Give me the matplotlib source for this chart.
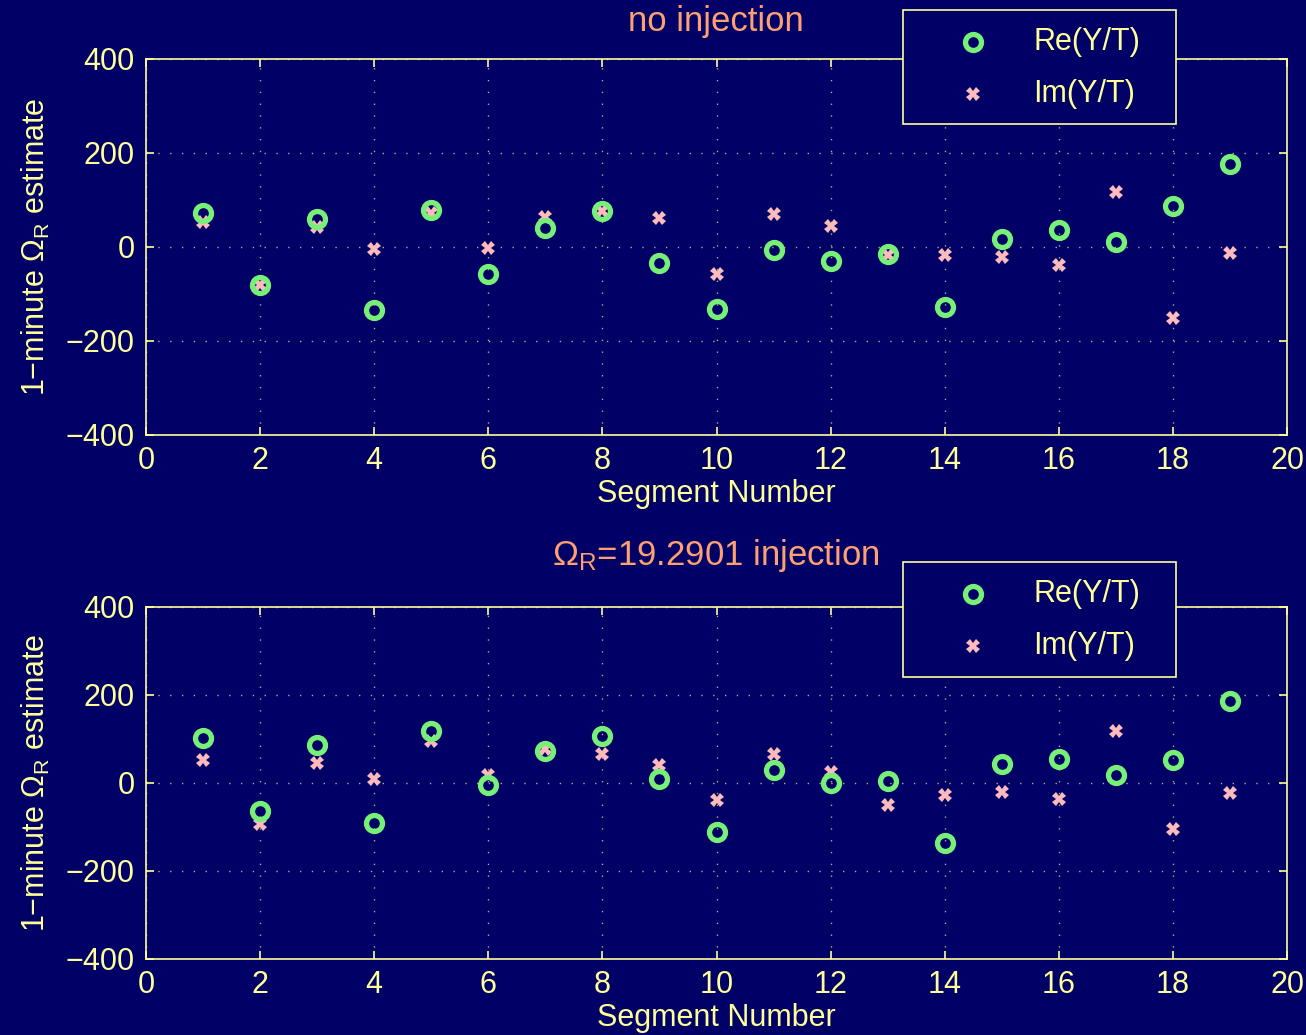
import matplotlib
matplotlib.use("Agg")
import matplotlib.pyplot as plt
from matplotlib.lines import Line2D
from matplotlib.patches import Rectangle

plt.rcParams['font.family'] = ['Liberation Sans', 'DejaVu Sans']
plt.rcParams['mathtext.fontset'] = 'custom'
plt.rcParams['mathtext.rm'] = 'Liberation Sans'
plt.rcParams['mathtext.it'] = 'Liberation Sans'
plt.rcParams['lines.scale_dashes'] = False
plt.rcParams['axes.unicode_minus'] = True

segments = list(range(1, 20))

re_noinj = [72, -81, 60, -134, 79, -57, 40, 77, -34, -132, -6, -30, -15, -128, 17, 36, 11, 87, 177]
im_noinj = [53, -81, 43, -4, 72, -2, 64, 77, 62, -57, 70, 45, -17, -17, -21, -38, 117, -151, -13]

re_inj = [102, -64, 86, -91, 118, -5, 73, 107, 9, -111, 30, 0, 5, -136, 43, 55, 18, 52, 186]
im_inj = [52, -93, 45, 9, 95, 18, 77, 66, 41, -39, 66, 25, -50, -27, -20, -36, 118, -105, -23]

titles = ["no injection", r"$\Omega_\mathrm{R}$=19.2901 injection"]
legend_labels = ['Re(Y/T)', 'Im(Y/T)']
xlabel = "Segment Number"
ylabel = r"1−minute $\Omega_\mathrm{R}$ estimate"
xticks = list(range(0, 21, 2))
yticks = [-400, -200, 0, 200, 400]

BG = '#000066'
FG = '#FFFF99'
TITLE = '#FFA070'
GREEN = '#77F077'
PINK = '#FFBBBB'
GRID = '#B0B080'

W, H = 1306, 1035
fig = plt.figure(figsize=(W / 100, H / 100), dpi=100, facecolor=BG)

def fx(px):
    return px / W

def fy(py):
    return 1 - py / H

boxes = [
    (fx(146), fy(435), 1141 / W, 376 / H),
    (fx(146), fy(959), 1141 / W, 352 / H),
]
legend_boxes = [(903, 10, 1176, 124), (903, 562, 1176, 677)]
title_y = [22, 555]

data = [(re_noinj, im_noinj), (re_inj, im_inj)]

re_style = dict(linestyle='none', marker='o', markersize=11.5,
                markerfacecolor='none', markeredgewidth=3.8, markeredgecolor=GREEN)
im_style = dict(linestyle='none', marker='X', markersize=10,
                markeredgewidth=0, color=PINK)

for i, (box, (re, im)) in enumerate(zip(boxes, data)):
    ax = fig.add_axes(box)
    ax.set_facecolor(BG)
    ax.plot(segments, im, zorder=3, **im_style)
    ax.plot(segments, re, zorder=4, **re_style)
    ax.set_xlim(0, 20)
    ax.set_ylim(-400, 400)
    ax.set_xticks(xticks)
    ax.set_yticks(yticks)
    ax.grid(True, color=GRID, linestyle=(0, (1, 7.5)), linewidth=1.0)
    for s in ax.spines.values():
        s.set_color(FG)
        s.set_linewidth(1.2)
    ax.tick_params(direction='in', top=True, right=True, colors=FG,
                   labelsize=22, length=6, width=1.2, pad=8)
    ax.set_xlabel(xlabel, color=FG, fontsize=22, labelpad=2)
    ax.set_ylabel(ylabel, color=FG, fontsize=22, labelpad=10)

    fig.text(fx(716), fy(title_y[i]), titles[i], color=TITLE, fontsize=25,
             ha='center', va='center')

    # legend box (drawn in figure coordinates)
    x0, y0, x1, y1 = legend_boxes[i]
    fig.patches.append(Rectangle((fx(x0), fy(y1)), (x1 - x0) / W, (y1 - y0) / H,
                                 transform=fig.transFigure, facecolor=BG,
                                 edgecolor=FG, linewidth=1.2, zorder=5))
    rows = [y0 + 32, y0 + 84]
    for ry, lab, st in zip(rows, legend_labels, [re_style, im_style]):
        fig.add_artist(Line2D([fx(x0 + 70)], [fy(ry)], transform=fig.transFigure,
                              zorder=6, **st))
        fig.text(fx(x0 + 130), fy(ry), lab, color=FG, fontsize=22,
                 ha='left', va='center', zorder=6)

fig.savefig('out.png', dpi=100, facecolor=BG)
